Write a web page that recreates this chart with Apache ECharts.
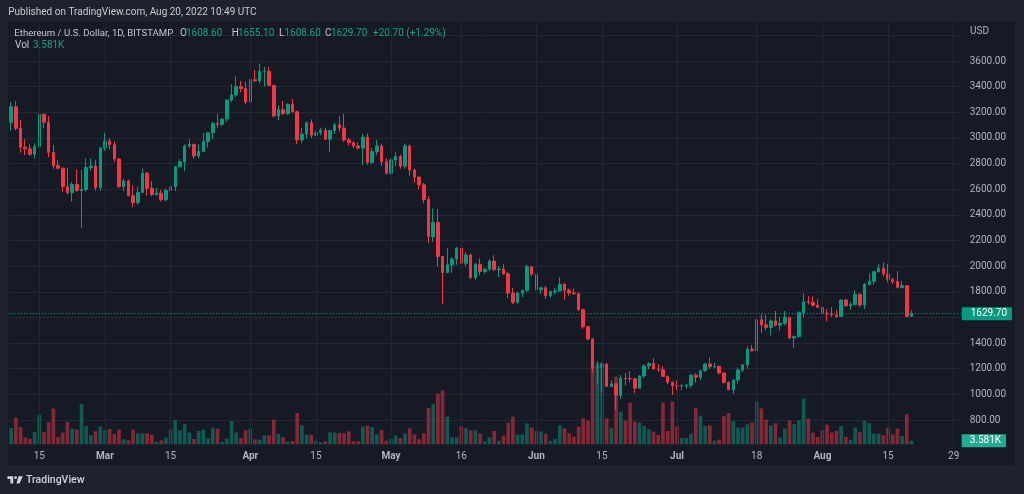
<!DOCTYPE html>
<html><head><meta charset="utf-8">
<script src="https://cdn.jsdelivr.net/npm/echarts@6/dist/echarts.min.js"></script>
<style>html,body{margin:0;padding:0;background:#161a25;}#c{width:1024px;height:494px;}</style>
</head><body><div id="c"></div>
<script>
// ---- categories (daily, Bitstamp ETH/USD) ----
const startDate = '2022-02-09';
const dayCount = 203; // axis runs to 2022-08-30
const tickDates = ['2022-02-15','2022-03-01','2022-03-15','2022-04-01','2022-04-15','2022-05-01','2022-05-16',
  '2022-06-01','2022-06-15','2022-07-01','2022-07-18','2022-08-01','2022-08-15','2022-08-29'];
const monthNames = ['Jan','Feb','Mar','Apr','May','Jun','Jul','Aug','Sep','Oct','Nov','Dec'];
const priceMin = 800, priceMax = 3800, priceStep = 200;

// ---- series values (Feb 9 .. Aug 20) ----
const open = [3122,3243,3075,2928,2915,2873,2933,3184,3123,2886,2784,2764,2620,2573,2638,2590,2598,2770,2781,2612,
 2922,2975,2948,2835,2620,2664,2550,2495,2575,2725,2607,2558,2570,2518,2590,2620,2775,2814,2937,2950,2860,2895,2972,3040,3113,3106,3148,3296,3335,3400,3385,
 3280,3455,3445,3520,3521,3410,3172,3222,3190,3262,3205,2985,3030,3118,3022,3040,3060,2990,3058,3102,3077,2985,2963,2937,2921,3006,2810,2894,2937,2815,
 2725,2828,2855,2780,2938,2750,2695,2635,2520,2230,2340,2075,1950,2010,2055,2140,2022,2087,1910,2015,1958,1975,2040,1972,1978,1940,1790,1718,1790,1812,1996,
 1937,1816,1831,1770,1800,1806,1858,1812,1791,1785,1660,1528,1432,1205,1210,1236,1062,1082,993,1125,1123,1121,1048,1143,1222,1240,1198,1192,1140,1095,
 1068,1064,1066,1072,1150,1134,1185,1237,1216,1218,1166,1093,1036,1112,1190,1230,1352,1340,1582,1542,1522,1573,1540,1553,1600,1440,1450,1637,1723,1718,1695,
 1679,1632,1628,1620,1608,1736,1690,1700,1778,1697,1857,1882,1957,1983,1939,1897,1879,1833,1848,1608.6];
const high = [3280,3287,3140,2990,2950,2960,3190,3190,3170,2945,2830,2770,2770,2655,2755,2750,2840,2840,2830,2930,
 3040,3000,2975,2845,2680,2675,2630,2620,2760,2735,2665,2610,2595,2605,2655,2780,2835,2950,2990,2955,2950,3040,3045,3125,3190,3150,3300,3420,3480,3445,3440,
 3470,3530,3580,3555,3555,3410,3255,3290,3270,3305,3215,3080,3130,3145,3055,3080,3080,3065,3120,3170,3190,3000,2975,2965,3030,3035,2920,2985,2955,2840,
 2840,2890,2870,2955,2950,2760,2700,2650,2545,2450,2445,2080,2140,2070,2150,2145,2110,2100,2025,2060,1985,2055,2085,2000,2015,1955,1830,1800,1815,2010,2000,
 1970,1840,1845,1810,1830,1915,1870,1825,1825,1795,1670,1535,1440,1260,1250,1245,1110,1090,1150,1165,1180,1130,1150,1235,1250,1280,1235,1220,1145,1100,
 1110,1080,1080,1155,1165,1190,1245,1285,1245,1225,1170,1100,1115,1210,1235,1375,1385,1590,1630,1620,1585,1650,1605,1650,1605,1460,1650,1785,1765,1765,1745,
 1690,1665,1680,1660,1740,1745,1720,1810,1790,1870,1945,1960,2015,2030,2015,1910,1960,1885,1850,1655.1];
const low = [3055,3060,2885,2867,2860,2840,2920,3075,2850,2760,2755,2580,2560,2505,2580,2300,2580,2745,2590,2590,
 2900,2910,2815,2610,2585,2545,2460,2480,2570,2550,2545,2550,2505,2505,2530,2585,2770,2740,2920,2840,2840,2890,2925,2990,3080,3090,3125,3280,3320,3355,3265,
 3210,3440,3425,3400,3405,3160,3140,3180,3180,3195,2950,2960,2995,3000,3015,3020,2985,2890,3030,3050,2970,2940,2920,2910,2790,2790,2795,2865,2780,2715,
 2715,2780,2760,2760,2705,2650,2600,2490,2180,2190,2000,1705,1945,1950,2010,1990,2000,1900,1890,1930,1940,1965,1965,1915,1935,1750,1705,1705,1760,1800,1920,
 1770,1785,1745,1755,1780,1800,1735,1770,1780,1650,1510,1420,1170,1075,1015,1060,1055,880,965,1070,1095,1010,1045,1125,1195,1195,1175,1135,1080,995,
 1030,1035,1045,1050,1090,1110,1175,1200,1205,1155,1085,1030,1005,1080,1175,1200,1335,1335,1480,1500,1460,1530,1500,1540,1430,1360,1445,1600,1700,1685,1675,
 1600,1570,1605,1595,1605,1690,1660,1695,1680,1665,1850,1855,1950,1920,1875,1860,1830,1825,1600,1608.6];
const close = [3243,3075,2928,2915,2873,2933,3184,3123,2886,2784,2764,2620,2573,2638,2590,2598,2770,2781,2612,2922,
 2975,2948,2835,2620,2664,2550,2495,2575,2725,2607,2558,2570,2518,2590,2620,2775,2814,2937,2950,2860,2895,2972,3040,3113,3106,3148,3296,3335,3400,3385,3280,
 3455,3445,3520,3521,3410,3172,3222,3190,3262,3205,2985,3030,3118,3022,3040,3060,2990,3058,3102,3077,2985,2963,2937,2921,3006,2810,2894,2937,2815,2725,
 2828,2855,2780,2938,2750,2695,2635,2520,2230,2340,2075,1950,2010,2055,2140,2022,2087,1910,2015,1958,1975,2040,1972,1978,1940,1790,1718,1790,1812,1996,1937,
 1816,1831,1770,1800,1806,1858,1812,1791,1785,1660,1528,1432,1205,1210,1236,1062,1082,993,1125,1123,1121,1048,1143,1222,1240,1198,1192,1140,1095,1068,
 1064,1066,1072,1150,1134,1185,1237,1216,1218,1166,1093,1036,1112,1190,1230,1352,1340,1582,1542,1522,1573,1540,1553,1600,1440,1450,1637,1723,1718,1695,1679,
 1632,1628,1620,1608,1736,1690,1700,1778,1697,1857,1882,1957,1983,1939,1897,1879,1833,1848,1609,1629.7];
// volume in thousands of ETH
const volume = [16.3,26.7,17.3,6.7,5.7,12.3,29.3,12.3,22,35.7,7.3,11.7,22.3,15.7,14.7,40.3,18.3,9,13,17.7,
 14.3,15.3,10.3,14.7,5,4,14.7,11,11,11,9.7,2.7,4,6.7,14.7,24,14,20,11.7,5.3,13.3,14.7,6,16.7,15.7,2.3,5.7,23.3,12,6.3,14,
 15.7,5,4.7,9,9,24.7,10.3,7.3,2.7,3.3,31.3,19,9.7,9.7,3.3,2,3,12,11.7,11.3,11.3,13,3,3,17.7,18.7,17.3,10,14.3,3.7,
 5.3,8.7,6.3,10.7,16,10,5,11,36.3,40.3,50.7,54,27.7,7,7,17.7,16,14,14,10.7,3,7,13.3,3.5,8.7,21.5,27.8,9.7,9.7,20.8,16.7,
 13.2,12.8,10.4,3.5,5.2,19,16,11,7.7,17.7,26,23.7,78,81,76,26,16.7,67.7,32.7,23.7,41.7,22.7,21.7,18.3,15,12.7,9.3,41.7,13.3,42.7,
 17.7,6.5,6.2,10.7,36.3,28.7,18.3,19,3.7,4.7,28.3,31.3,23.3,16.7,16.7,20,21.7,43,36,24.7,19,21,6.7,15.7,23.7,20.3,24,45.7,25.7,11.7,7.3,
 14,19.7,11.7,13.3,18.3,7.3,4.7,16.7,12.3,23.7,21,10.7,10.7,9,16.7,10,15.7,8.3,30,3.581];

// ---- build categories ----
const dates = [];
const t0 = Date.parse(startDate + 'T00:00:00Z');
for (let i = 0; i < dayCount; i++) dates.push(new Date(t0 + i * 86400000).toISOString().slice(0, 10));
const tickSet = new Set(tickDates);

const UP = '#089981', DOWN = '#f23645';
const UPV = 'rgba(8,153,129,0.5)', DOWNV = 'rgba(242,54,69,0.5)';
const GRID = '#232734', AXT = '#b2b5be', OUTER = '#1e222d';
const FONT = 'Roboto';
const n = close.length;
const lastO = open[n-1], lastH = high[n-1], lastL = low[n-1], lastC = close[n-1];
const chg = lastC - close[n-2];
const chgPct = chg / close[n-2] * 100;
const lastVol = volume[n-1];

const candleData = open.map((o, i) => [o, close[i], low[i], high[i]]);
const volData = volume.map((v, i) => ({ value: v, itemStyle: { color: close[i] >= open[i] ? UPV : DOWNV } }));

const catW = 4.689;
const gLeft = 8.83, gWidth = dayCount * catW;

const chart = echarts.init(document.getElementById('c'), null, { renderer: 'canvas' });

function txt(x, y, text, fill, size, weight) {
  return { type: 'text', x: x, y: y, z: 110, silent: true,
    style: { text: text, fill: fill, font: (weight || 'normal') + ' ' + size + 'px ' + FONT, textAlign: 'left', textVerticalAlign: 'middle', verticalAlign: 'middle' } };
}
const legendGray = '#c4c7cf', legendGreen = '#12a386';
const LF = 10;

chart.setOption({
  animation: false,
  backgroundColor: '#161a25',
  grid: [
    { left: gLeft, width: gWidth, top: 35.4, height: 384.6 },
    { left: gLeft, width: gWidth, top: 22.3, height: 422 }
  ],
  xAxis: [
    { type: 'category', gridIndex: 0, data: dates, show: false },
    { type: 'category', gridIndex: 1, data: dates,
      axisLine: { show: false }, axisTick: { show: false }, splitLine: { show: false },
      axisLabel: {
        interval: (idx, val) => tickSet.has(val),
        color: AXT, fontSize: 10, fontFamily: FONT, margin: 7,
        formatter: (val) => { const p = val.split('-'); return p[2] === '01' ? '{b|' + monthNames[+p[1] - 1] + '}' : String(+p[2]); },
        rich: { b: { fontWeight: 'bold', color: AXT, fontSize: 10, fontFamily: FONT } }
      } }
  ],
  yAxis: [
    { type: 'value', gridIndex: 0, position: 'right', min: priceMin, max: priceMax, interval: priceStep,
      axisLine: { show: false }, axisTick: { show: false },
      splitLine: { lineStyle: { color: GRID, width: 1 } },
      axisLabel: { color: AXT, fontSize: 10, fontFamily: FONT, margin: 9,
        formatter: (v) => v === priceMax ? '' : v.toFixed(2) } },
    { type: 'value', gridIndex: 1, min: 0, max: 422, show: false }
  ],
  series: [
    { type: 'line', name: 'vgrid', xAxisIndex: 1, yAxisIndex: 1, data: [], z: 1, silent: true,
      markLine: { silent: true, symbol: ['none', 'none'], label: { show: false },
        lineStyle: { color: GRID, type: 'solid', width: 1 },
        data: tickDates.map(d => ({ xAxis: d })) } },
    { type: 'bar', name: 'Vol', xAxisIndex: 1, yAxisIndex: 1, data: volData, barWidth: '78%', z: 2, silent: true,
      markLine: { silent: true, symbol: ['none', 'none'],
        lineStyle: { color: 'rgba(0,0,0,0)', width: 1, type: 'solid' },
        label: { show: true, position: 'end', distance: 1, formatter: lastVol.toFixed(3) + 'K',
          color: '#ffffff', backgroundColor: '#22ab94', padding: [2, 5, 1, 8], fontSize: 10, lineHeight: 10, fontFamily: FONT, borderRadius: 1, opacity: 1 },
        data: [{ yAxis: lastVol }] } },
    { type: 'candlestick', name: 'ETHUSD', xAxisIndex: 0, yAxisIndex: 0, data: candleData, barWidth: 3, z: 3, silent: true,
      itemStyle: { color: UP, color0: DOWN, borderColor: UP, borderColor0: DOWN, borderWidth: 1 },
      markLine: { silent: true, symbol: ['none', 'none'],
        lineStyle: { color: UP, type: [1, 2], width: 1 },
        label: { show: true, position: 'end', distance: 1, formatter: lastC.toFixed(2),
          color: '#ffffff', backgroundColor: UP, padding: [2, 5, 1, 9], fontSize: 10, lineHeight: 10, fontFamily: FONT, borderRadius: 1 },
        data: [{ yAxis: lastC }] } }
  ],
  graphic: [
    { type: 'rect', z: 100, silent: true, shape: { x: 0, y: 0, width: 1024, height: 22 }, style: { fill: OUTER } },
    { type: 'rect', z: 100, silent: true, shape: { x: 0, y: 0, width: 8, height: 494 }, style: { fill: OUTER } },
    { type: 'rect', z: 100, silent: true, shape: { x: 1015, y: 0, width: 9, height: 494 }, style: { fill: OUTER } },
    { type: 'rect', z: 100, silent: true, shape: { x: 0, y: 465, width: 1024, height: 29 }, style: { fill: OUTER } },
    txt(8.3, 12.3, 'Published on TradingView.com, Aug 20, 2022 10:49 UTC', '#c7cad1', 10),
    txt(14.3, 33.3, 'Ethereum / U.S. Dollar, 1D, BITSTAMP', legendGray, 9.6),
    txt(180, 33.3, 'O', legendGray, LF), txt(186, 33.3, lastO.toFixed(2), legendGreen, LF),
    txt(231.7, 33.3, 'H', legendGray, LF), txt(238, 33.3, lastH.toFixed(2), legendGreen, LF),
    txt(279, 33.3, 'L', legendGray, LF), txt(284.5, 33.3, lastL.toFixed(2), legendGreen, LF),
    txt(325, 33.3, 'C', legendGray, LF), txt(331, 33.3, lastC.toFixed(2), legendGreen, LF),
    txt(373, 33.3, (chg >= 0 ? '+' : '') + chg.toFixed(2) + ' (' + (chg >= 0 ? '+' : '') + chgPct.toFixed(2) + '%)', legendGreen, LF),
    txt(15, 45.7, 'Vol', legendGray, LF), txt(33, 45.7, lastVol.toFixed(3) + 'K', legendGreen, LF),
    txt(970, 31.7, 'USD', AXT, 10),
    { type: 'polygon', z: 110, silent: true, shape: { points: [[7.5,476.3],[13.2,476.3],[13.2,483.6],[10.4,483.6],[10.4,479],[7.5,479]] }, style: { fill: '#d1d4dc' } },
    { type: 'circle', z: 110, silent: true, shape: { cx: 15.6, cy: 477.7, r: 1.4 }, style: { fill: '#d1d4dc' } },
    { type: 'polygon', z: 110, silent: true, shape: { points: [[18.6,476.3],[22.8,476.3],[19.6,483.6],[16.4,483.6]] }, style: { fill: '#d1d4dc' } },
    txt(26, 480.5, 'TradingView', '#d1d4dc', 10.5, '500')
  ]
});
</script>
</body></html>
